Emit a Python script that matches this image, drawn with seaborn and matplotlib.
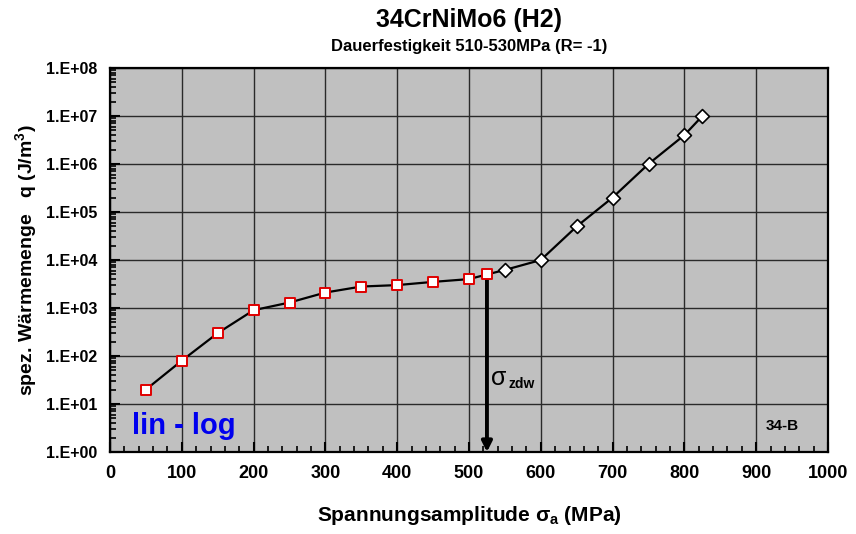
import numpy as np
import pandas as pd
import matplotlib
matplotlib.use("Agg")
import matplotlib.pyplot as plt
import seaborn as sns
from matplotlib.ticker import FixedLocator, LogLocator, NullFormatter, MultipleLocator

# Data
sigma_sq = [50, 100, 150, 200, 250, 300, 350, 400, 450, 500, 525]
q_sq = [20, 80, 300, 900, 1300, 2100, 2800, 3000, 3500, 4000, 5000]
sigma_di = [550, 600, 650, 700, 750, 800, 825]
q_di = [6200, 10000, 50000, 200000, 1000000, 4000000, 10000000]
sigma_zdw = 525
xticks = [0, 100, 200, 300, 400, 500, 600, 700, 800, 900, 1000]
ytick_exps = [0, 1, 2, 3, 4, 5, 6, 7, 8]

sns.set_theme(style="white")
plt.rcParams['font.family'] = ['Liberation Sans', 'DejaVu Sans']
plt.rcParams['font.weight'] = 'bold'
plt.rcParams['text.color'] = 'black'
plt.rcParams['axes.labelcolor'] = 'black'
plt.rcParams['xtick.color'] = 'black'
plt.rcParams['ytick.color'] = 'black'
plt.rcParams['mathtext.fontset'] = 'custom'
plt.rcParams['mathtext.rm'] = 'Liberation Sans:bold'
plt.rcParams['mathtext.bf'] = 'Liberation Sans:bold'
plt.rcParams['mathtext.it'] = 'Liberation Sans:bold'

fig = plt.figure(figsize=(8.56, 5.34), dpi=100)
ax = fig.add_axes([110/856, 1 - 452/534, (828-110)/856, (452-68)/534])
ax.set_facecolor('#c0c0c0')

all_x = sigma_sq + sigma_di
all_y = q_sq + q_di
df_line = pd.DataFrame({"s": all_x, "q": all_y})
sns.lineplot(data=df_line, x="s", y="q", ax=ax, color="black", lw=1.6, sort=True, zorder=3)

df_sq = pd.DataFrame({"s": sigma_sq, "q": q_sq})
sns.scatterplot(data=df_sq, x="s", y="q", ax=ax, marker="s", s=55, color="white",
                edgecolor="#e00000", linewidth=1.4, zorder=4)
df_di = pd.DataFrame({"s": sigma_di, "q": q_di})
sns.scatterplot(data=df_di, x="s", y="q", ax=ax, marker="D", s=50, color="white",
                edgecolor="black", linewidth=1.2, zorder=4)

ax.set_yscale("log")
ax.set_xlim(0, 1000)
ax.set_ylim(1, 1e8)

ax.xaxis.set_major_locator(FixedLocator(xticks))
ax.xaxis.set_minor_locator(MultipleLocator(20))
ax.yaxis.set_major_locator(FixedLocator([10.0**e for e in ytick_exps]))
ax.yaxis.set_minor_locator(LogLocator(base=10, subs=np.arange(2, 10)))
ax.yaxis.set_minor_formatter(NullFormatter())
ax.set_xticklabels([str(v) for v in xticks], fontsize=13, fontweight='bold')
ax.set_yticklabels([f"1.E+{e:02d}" for e in ytick_exps], fontsize=11.5, fontweight='bold')

ax.grid(True, which='major', color='#2a2a2a', lw=1.0)
ax.set_axisbelow(True)
ax.tick_params(axis='both', which='major', direction='in', length=7, width=1.5, pad=9,
               bottom=True, left=True)
ax.tick_params(axis='both', which='minor', direction='in', length=4, width=1.2,
               bottom=True, left=True)
for sp in ax.spines.values():
    sp.set_color('black')
    sp.set_linewidth(1.6)

ax.set_xlabel("Spannungsamplitude σ$_{\\mathrm{a}}$ (MPa)", fontsize=15, fontweight='bold', labelpad=16)
ax.set_ylabel("spez. Wärmemenge   q (J/m$^{\\mathrm{3}}$)", fontsize=14, fontweight='bold', labelpad=5)

cx = 0.5*(110+828)/856
fig.text(cx, 1 - 20/534, "34CrNiMo6 (H2)", ha='center', va='center',
         fontsize=18, fontweight='bold')
fig.text(cx, 1 - 47/534, "Dauerfestigkeit 510-530MPa (R= -1)", ha='center', va='center',
         fontsize=12, fontweight='bold')

ax.annotate("", xy=(sigma_zdw, 1.0), xytext=(sigma_zdw, 4300),
            arrowprops=dict(arrowstyle='-|>', color='black', lw=2.8, mutation_scale=15,
                            shrinkA=0, shrinkB=0), zorder=2)
ax.text(sigma_zdw + 6, 10**1.55, "σ", fontsize=18, fontweight='normal',
        va='center', ha='left')
ax.text(sigma_zdw + 30, 10**1.42, "zdw", fontsize=10, fontweight='bold', va='center', ha='left')
ax.text(30, 10**0.55, "lin - log", color='#0000ee', fontsize=21, fontweight='bold', va='center')
ax.text(960, 10**0.55, "34-B", fontsize=11, fontweight='bold', ha='right', va='center')

fig.savefig("out.png", dpi=100)
